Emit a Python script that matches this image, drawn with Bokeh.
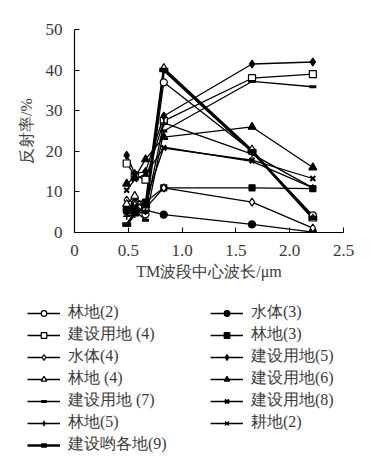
from bokeh.plotting import figure
from bokeh.layouts import column
from bokeh.models import Range1d, FixedTicker, Legend, LegendItem
from bokeh.embed import file_html
from bokeh.resources import INLINE

# ---- data ----
wavelength = [0.485, 0.56, 0.66, 0.83, 1.65, 2.215]
x_ticks = [0, 0.5, 1.0, 1.5, 2.0, 2.5]
x_tick_labels = ["0", "0.5", "1.0", "1.5", "2.0", "2.5"]
y_ticks = [0, 10, 20, 30, 40, 50]

forest_2 = [5.9, 7.0, 4.5, 37.0, 20.0, 4.2]
water_3 = [5.3, 5.6, 5.5, 4.4, 2.0, 0.1]
built_4 = [17.0, 14.0, 13.0, 27.5, 38.0, 39.0]
forest_3 = [5.5, 6.5, 7.5, 11.0, 11.0, 10.8]
water_4 = [8.0, 7.5, 6.0, 11.0, 7.5, 1.1]
built_5 = [19.0, 14.5, 15.0, 28.7, 41.5, 42.0]
forest_4 = [7.0, 9.0, 6.0, 40.5, 20.4, 3.4]
built_6 = [12.0, 13.5, 18.0, 23.5, 26.0, 16.0]
built_7 = [1.8, 5.5, 3.0, 25.0, 37.2, 35.9]
built_8 = [10.4, 13.1, 14.4, 20.8, 17.8, 13.3]
forest_5 = [4.0, 4.5, 5.2, 27.0, 19.3, 11.0]
farm_2 = [4.7, 7.7, 7.7, 21.0, 17.5, 11.0]
built_9 = [2.0, 4.5, 6.5, 40.0, 20.0, 3.6]

series_names = ["林地(2)", "水体(3)", "建设用地 (4)", "林地(3)", "水体(4)", "建设用地(5)",
                "林地 (4)", "建设用地(6)", "建设用地 (7)", "建设用地(8)", "林地(5)", "耕地(2)",
                "建设哟各地(9)"]
series_values = [forest_2, water_3, built_4, forest_3, water_4, built_5,
                 forest_4, built_6, built_7, built_8, forest_5, farm_2, built_9]

# styles: marker, size, fill, line width of the connecting line, marker line width
styles = [
    ("circle", 7, "white", 1.3, 1.2),
    ("circle", 7, "black", 1.3, 1.2),
    ("square", 7, "white", 1.3, 1.2),
    ("square", 6, "black", 1.3, 1.2),
    ("diamond", 8, "white", 1.3, 1.2),
    ("diamond", 8, "black", 1.3, 1.2),
    ("triangle", 8, "white", 1.3, 1.2),
    ("triangle", 8, "black", 1.3, 1.2),
    ("dash", 7, "black", 1.3, 3.0),
    ("x", 7, "black", 1.3, 2.0),
    ("cross", 7, "black", 1.3, 1.5),
    ("x", 6, "black", 1.3, 1.3),
    ("dash", 9, "black", 2.6, 4.5),
]

FONT = "Liberation Serif"
TXT = "#3a3a3a"

p = figure(width=374, height=290, output_backend="svg", toolbar_location=None,
           x_range=Range1d(0, 2.5), y_range=Range1d(0, 50), frame_align=False,
           min_border_left=74, min_border_right=31, min_border_top=29, min_border_bottom=58)
p.grid.visible = False
p.outline_line_color = None

for ax in (p.xaxis[0], p.yaxis[0]):
    ax.major_tick_in = 5
    ax.major_tick_out = 0
    ax.minor_tick_line_color = None
    ax.axis_line_color = "black"
    ax.axis_line_width = 1.2
    ax.major_tick_line_color = "black"
    ax.major_label_text_font = FONT
    ax.major_label_text_font_size = "17px"
    ax.major_label_text_color = TXT
    ax.axis_label_text_font = FONT
    ax.axis_label_text_font_size = "16px"
    ax.axis_label_text_font_style = "normal"
    ax.axis_label_text_color = TXT

p.xaxis.ticker = FixedTicker(ticks=x_ticks)
p.xaxis.major_label_overrides = {t: l for t, l in zip(x_ticks, x_tick_labels)}
p.yaxis.ticker = FixedTicker(ticks=y_ticks)
p.xaxis.axis_label = "TM波段中心波长/μm"
p.yaxis.axis_label = "反射率/%"
p.xaxis.major_label_standoff = 12
p.yaxis.major_label_standoff = 12
p.xaxis.axis_label_standoff = 4
p.yaxis.axis_label_standoff = 8

for vals, st in zip(series_values, styles):
    p.line(wavelength, vals, line_color="black", line_width=st[3])
for vals, st in zip(series_values, styles):
    p.scatter(wavelength, vals, marker=st[0], size=st[1], fill_color=st[2],
              line_color="black", line_width=st[4])

# ---- legend panel (separate figure without axes; renderers hidden, legend drawn normally) ----
q = figure(width=374, height=168, output_backend="svg", toolbar_location=None,
           x_range=Range1d(0, 1), y_range=Range1d(0, 1), frame_align=False,
           x_axis_location=None, y_axis_location=None,
           min_border_left=0, min_border_right=0, min_border_top=0, min_border_bottom=0)
q.grid.visible = False
q.outline_line_color = None

items = []
for name, vals, st in zip(series_names, series_values, styles):
    lr = q.line(wavelength, vals, line_color="black", line_width=st[3], visible=False)
    sr = q.scatter(wavelength, vals, marker=st[0], size=st[1], fill_color=st[2],
                   line_color="black", line_width=st[4], visible=False)
    items.append(LegendItem(label=name, renderers=[lr, sr]))

col1 = [0, 2, 4, 6, 8, 10, 12]
col2 = [1, 3, 5, 7, 9, 11]
ordered = [items[i] for i in col1] + [items[i] for i in col2]

legend = Legend(items=ordered, location=(27, 3), ncols=2,
                glyph_width=33, glyph_height=14, label_height=14, label_width=141,
                label_standoff=8, spacing=1, padding=0, margin=0,
                border_line_color=None, background_fill_alpha=0,
                label_text_font=FONT, label_text_font_size="16px", label_text_color=TXT)
q.add_layout(legend, "center")

layout = column(p, q, spacing=0)
open("out.html", "w").write(file_html(layout, INLINE))
